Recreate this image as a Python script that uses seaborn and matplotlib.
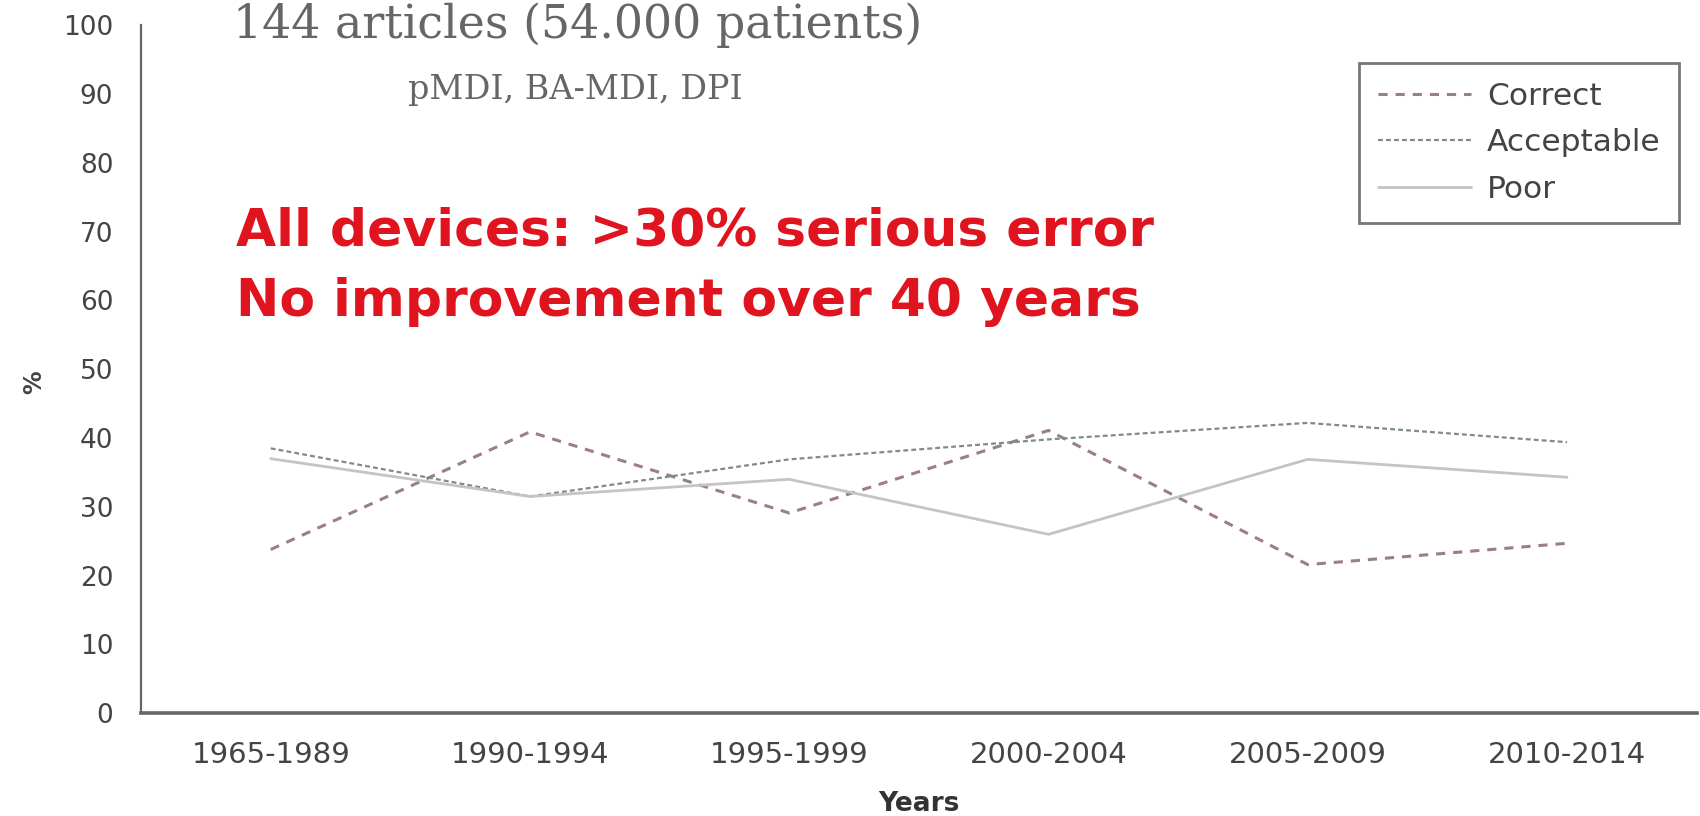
import numpy as np
import pandas as pd
import matplotlib
matplotlib.use("Agg")
import matplotlib.pyplot as plt
from matplotlib.lines import Line2D
import seaborn as sns

sns.set_style("white")
plt.rcParams['font.family'] = ['DejaVu Sans']

# data
periods = ['1965-1989', '1990-1994', '1995-1999', '2000-2004', '2005-2009', '2010-2014']
correct = [23.8, 40.9, 29.1, 41.1, 21.6, 24.7]
acceptable = [38.5, 31.5, 36.9, 39.8, 42.2, 39.4]
poor = [37.0, 31.5, 34.0, 26.0, 36.9, 34.3]
series_names = ['Correct', 'Acceptable', 'Poor']

df = pd.DataFrame({
    'period': periods * 3,
    'pct': correct + acceptable + poor,
    'group': [n for n in series_names for _ in periods],
})
df['x'] = df['period'].map({p: i for i, p in enumerate(periods)})

palette = {'Correct': '#9a7f88', 'Acceptable': '#7d8a92', 'Poor': '#c4c4c4'}
dashes = {'Correct': (3.0, 2.6), 'Acceptable': (2.2, 1.4), 'Poor': ''}
widths = {'Correct': 2.2, 'Acceptable': 1.6, 'Poor': 2.0}

fig = plt.figure(figsize=(17, 8.16), dpi=100)
ax = fig.add_axes([0.083, 0.126, 0.915, 0.843])

sns.lineplot(data=df, x='x', y='pct', hue='group', style='group',
             palette=palette, dashes=dashes, sort=False, ax=ax, legend=False)
for line, name in zip(ax.get_lines(), series_names):
    line.set_linewidth(widths[name])

ax.set_xlim(-0.5, len(periods) - 0.5)
ax.set_ylim(0, 100)
ax.set_yticks(range(0, 101, 10))
ax.set_xticks(np.arange(-0.5, len(periods)))
ax.set_xticklabels([])
ax.set_xticks(np.arange(len(periods)), minor=True)
ax.set_xticklabels(periods, minor=True)
ax.tick_params(axis='x', which='minor', length=0, pad=20, labelsize=21, colors='#444444')
ax.tick_params(axis='x', which='major', length=8, width=1.5, color='#555555')
ax.tick_params(axis='y', length=8, width=1.5, color='#555555', labelsize=19,
               labelcolor='#444444', pad=12)

sns.despine(ax=ax)
for s in ['left', 'bottom']:
    ax.spines[s].set_color('#666666')
ax.spines['left'].set_linewidth(1.6)
ax.spines['bottom'].set_linewidth(2.6)

ax.set_xlabel('Years', fontsize=19, fontweight='bold', color='#333333', labelpad=16)
ax.set_ylabel('%', fontsize=17, fontweight='bold', color='#444444')
ax.yaxis.set_label_coords(-0.061, 0.481)

# legend
handles = []
for n in series_names:
    h = Line2D([], [], color=palette[n], lw=widths[n], linestyle='--' if dashes[n] else '-')
    if dashes[n]:
        h.set_dashes(dashes[n])
    handles.append(h)
leg = ax.legend(handles, series_names, loc='upper right', bbox_to_anchor=(0.989, 0.945),
                fontsize=22.5, frameon=True, fancybox=False, handlelength=3.0,
                labelspacing=0.56, borderpad=0.6, handletextpad=0.5, borderaxespad=0)
leg.get_frame().set_edgecolor('#555555')
leg.get_frame().set_linewidth(2.0)
for t in leg.get_texts():
    t.set_color('#444444')

# annotations
fig.text(233 / 1700, 1 - 25 / 816, '144 articles (54.000 patients)', fontsize=33,
         family=['DejaVu Serif'], color='#666666', va='center', ha='left')
fig.text(408 / 1700, 1 - 90 / 816, 'pMDI, BA-MDI, DPI', fontsize=24,
         family=['DejaVu Serif'], color='#666666', va='center', ha='left')
fig.text(236 / 1700, 1 - 232 / 816, 'All devices: >30% serious error', fontsize=37.4,
         fontweight='bold', color='#e0141e', va='center', ha='left')
fig.text(236 / 1700, 1 - 302 / 816, 'No improvement over 40 years', fontsize=37.4,
         fontweight='bold', color='#e0141e', va='center', ha='left')

fig.savefig('out.png', dpi=100)
